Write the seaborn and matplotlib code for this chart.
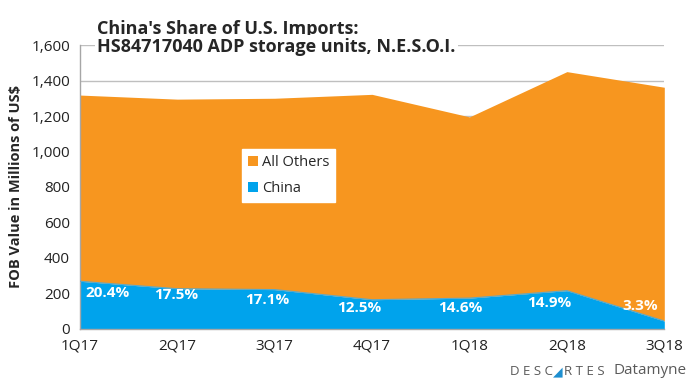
import numpy as np
import pandas as pd
import matplotlib
matplotlib.use("Agg")
import matplotlib.pyplot as plt
import seaborn as sns
from matplotlib.ticker import FuncFormatter

quarters = ["1Q17", "2Q17", "3Q17", "4Q17", "1Q18", "2Q18", "3Q18"]
total = [1318, 1295, 1300, 1322, 1195, 1450, 1362]
china = [269, 227, 222, 165, 174, 216, 45]
share_labels = ["20.4%", "17.5%", "17.1%", "12.5%", "14.6%", "14.9%", "3.3%"]

# where the percent labels sit (x in category units, y in data units)
label_x = [0.28, 0.99, 1.92, 2.87, 3.91, 4.82, 5.75]
label_y = [200, 194, 163, 120, 117, 144, 131]

orange = "#F7961F"
blue = "#00A3EC"
grey = "#A6A6A6"

df = pd.DataFrame({"quarter": quarters, "total": total, "china": china})
df["pos"] = np.arange(len(df))

sns.set_style("white")
plt.rcParams["font.family"] = ["Open Sans", "DejaVu Sans"]

fig = plt.figure(figsize=(7, 3.83), dpi=100)
ax = fig.add_axes([0.114, 0.141, 0.835, 0.7415])

for v in range(200, 1601, 200):
    ax.axhline(v, color="#BFBFBF", lw=1, zorder=0)

ax.fill_between(df["pos"], df["china"], df["total"], color=orange, lw=0, zorder=1, label="All Others")
ax.fill_between(df["pos"], 0, df["china"], color=blue, lw=0, zorder=2, label="China")
sns.lineplot(data=df, x="pos", y="china", color="#5BA8C8", lw=0.8, ax=ax, zorder=3)

for x, y, t in zip(label_x, label_y, share_labels):
    ax.text(x, y, t, color="white", fontsize=11, fontweight="bold",
            ha="center", va="center", zorder=4)

ax.set_xlim(0, 6)
ax.set_ylim(0, 1600)
ax.set_xticks(df["pos"])
ax.set_xticklabels(quarters)
ax.set_yticks(range(0, 1601, 200))
ax.yaxis.set_major_formatter(FuncFormatter(lambda v, p: f"{int(v):,}"))
ax.tick_params(axis="both", labelsize=11, colors="#222222", length=4, width=1, direction="out", pad=3)
ax.tick_params(axis="both", color=grey)
ax.set_xlabel("")
ax.set_ylabel("FOB Value in Millions of US$", fontsize=10.5, fontweight="bold", labelpad=6)
for s in ["top", "right"]:
    ax.spines[s].set_visible(False)
for s in ["left", "bottom"]:
    ax.spines[s].set_color(grey)
    ax.spines[s].set_linewidth(1)
ax.set_axisbelow(False)

leg = ax.legend(loc="upper left", bbox_to_anchor=(0.277, 0.634), borderaxespad=0,
                fontsize=10.5, handlelength=0.7, handleheight=0.7, handletextpad=0.3,
                frameon=True, fancybox=False, edgecolor="white", framealpha=1,
                borderpad=0.4, labelspacing=0.75)
leg.set_zorder(5)

fig.text(0.139, 0.925, "China's Share of U.S. Imports:", fontsize=13, fontweight="bold",
         ha="left", va="center")
fig.text(0.139, 0.877, "HS84717040 ADP storage units, N.E.S.O.I.", fontsize=13,
         fontweight="bold", ha="left", va="center",
         bbox=dict(facecolor="white", edgecolor="none", pad=2))

# logo
fig.text(0.79, 0.012, "D E S C", color="#5A5A5A", fontsize=9.5, ha="right", va="bottom")
fig.text(0.7905, 0.012, "◢", color="#1E8FD0", fontsize=9, ha="left", va="bottom",
         family="DejaVu Sans")
fig.text(0.806, 0.012, "R T E S", color="#5A5A5A", fontsize=9.5, ha="left", va="bottom")
fig.text(0.876, 0.012, "Datamyne", color="#5A5A5A", fontsize=11, ha="left", va="bottom")

fig.savefig("out.png", dpi=100)
